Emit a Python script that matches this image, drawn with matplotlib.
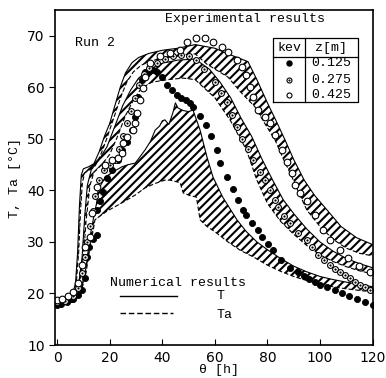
import matplotlib
matplotlib.use('Agg')
import matplotlib.pyplot as plt

# ---- numerical results: T (solid) and Ta (dashed) for each depth ----
b1_T_x = [0, 6, 9, 11, 12.5, 14, 15, 15.6, 18.3, 21, 24.7, 27, 29.7, 31.5, 33.5, 35.5, 37.3, 39, 40, 41,
          42.5, 44, 45, 46, 48, 50, 51.7, 54.4, 57, 59.3, 63, 68.4, 72, 76, 80, 85, 90, 95, 100, 105, 110, 115, 120]
b1_T_y = [18, 18.6, 20.5, 25, 31, 35, 37.5, 40.1, 42.6, 43.5, 44.6, 45, 45.3, 46.5, 47.9, 49.5, 51.7, 52.5, 53.5, 53.7,
          52.8, 55, 57, 56, 55.5, 55.3, 55.6, 51.7, 46.5, 42.6, 38.7, 34.3, 32, 30, 28.5, 26.8, 25.3, 24.2, 23.3, 22.7, 22.2, 21.8, 21.3]
b1_Ta_x = [0, 6, 9, 11, 12.5, 14, 14.4, 19, 24.7, 29.7, 33.5, 37, 41, 43, 46.8, 48, 50.5, 53, 54.4, 57, 60, 65,
           69.6, 75, 80, 85, 90, 95, 100, 105, 110, 115, 120]
b1_Ta_y = [17.8, 18.3, 20, 24, 29, 33, 34.3, 36, 37.6, 39.1, 40.5, 41.3, 42, 42, 41.5, 39.5, 39, 38.7, 34.3, 33, 32, 30,
           28.4, 27, 25.5, 24.3, 23.3, 22.5, 21.8, 21.3, 20.9, 20.6, 20.3]

b2_T_x = [0, 6, 8, 9.5, 10.5, 11.5, 13, 16, 19, 22, 25, 28, 31, 35, 40, 46, 52.5, 58, 62, 66, 70, 74, 78, 82, 86,
          90, 95, 100, 105, 110, 115, 120]
b2_T_y = [18.2, 19, 21, 27, 35, 41, 44, 46, 48.5, 52.5, 56.5, 59.5, 61.8, 63.5, 64.7, 65.3, 65.5, 63.5, 61, 58, 54,
          50.5, 46, 42, 38.2, 35.5, 32.5, 30, 28.2, 26.8, 25.8, 25]
b2_Ta_x = [0, 6, 8.5, 10, 11, 12.5, 14, 17, 20, 23, 26, 29, 32, 36, 42, 48, 52.5, 60, 66, 72, 76, 80, 85, 90, 95,
           100, 105, 110, 115, 120]
b2_Ta_y = [18, 18.7, 21, 27, 34, 41, 43.5, 45, 47, 50.5, 54.5, 57.5, 59.8, 61, 61.5, 61.8, 61.5, 58, 53.5, 47.9, 42,
           37.5, 34, 31.5, 29.3, 27.5, 26.2, 25.2, 24.4, 23.8]

b3_T_x = [0, 4, 6, 7, 7.8, 8.5, 9.2, 10, 12, 14, 16, 18, 20, 22, 24, 26, 28.5, 31, 35, 40, 46, 52.5, 60, 66, 72.6,
          76, 80, 83.5, 86.7, 90, 94, 98, 102.7, 108, 114, 120]
b3_T_y = [18.5, 19, 20, 22, 28, 37, 43, 44.2, 44.6, 45.2, 47.5, 50.5, 53, 56.5, 60, 62.8, 64.8, 65.8, 66.6, 67.2,
          67.6, 68.3, 67.6, 66.3, 65, 61.5, 57, 53.3, 49.8, 46, 42, 39, 36.2, 33, 30.8, 29.5]
b3_Ta_x = [0, 4, 6, 7.3, 8.2, 8.9, 9.6, 10.5, 12.5, 14.5, 16.5, 18.5, 20.5, 22.5, 24.5, 26.5, 29, 32, 36, 42, 48,
           52.5, 57, 65, 70, 75.3, 79, 82.9, 86, 89, 92, 95, 100, 105, 110, 115, 120]
b3_Ta_y = [18.2, 18.7, 19.6, 22, 28, 36, 41.5, 43.4, 44, 44.8, 46.8, 49.5, 52.5, 55.5, 58.5, 61, 63, 64.3, 65.2,
           65.8, 66.2, 66.5, 64.5, 62, 59, 56.2, 53, 49.8, 46.2, 43, 39.5, 36.2, 33, 30.5, 28.8, 27.8, 27.3]

# ---- experimental results ----
e125_x = [0, 1.5, 3.7, 6, 8, 9.4, 10.5, 11.3, 12, 13.5, 15, 15.2, 16.3, 17.5, 19, 21, 23, 24.7, 26.6, 28.5, 29.7,
          30.8, 32.3, 33.5, 35, 36.5, 38, 40, 41.8, 43.7, 45.6, 47.3, 49, 50.5, 51.7, 54.4, 56.7, 58.5, 60.8, 62,
          64.6, 67, 68.8, 70.7, 72, 74, 76.4, 78, 80.2, 82, 85, 88.6, 91.6, 94, 96, 98, 100, 102.8, 105.7, 108.4,
          111, 114, 117, 120]
e125_y = [17.8, 18, 18.4, 19, 19.8, 20.7, 23, 27, 29, 30.5, 31.4, 36.2, 38, 39.7, 42.5, 44, 46, 47.9, 49.4, 51.7,
          54.3, 58.2, 61.5, 63, 63.2, 63.3, 63, 62, 60.5, 59.5, 58.5, 58, 57.6, 57, 56.2, 54.5, 52.7, 50.6, 47.9,
          45.3, 42.6, 40.3, 38.2, 36.2, 35.2, 33.7, 32.3, 31, 29.6, 28.4, 26.5, 25, 24.2, 23.4, 22.8, 22.2, 21.7,
          21.2, 20.7, 20.1, 19.5, 19, 18.4, 17.8]

e275_x = [0, 3, 6, 8, 9.5, 10.5, 11.5, 12.5, 13.5, 14.5, 16, 18, 20, 22, 23.5, 25, 26.5, 28, 29.5, 31, 33, 35, 38,
          41, 44, 47, 50, 53, 56, 60, 62.5, 64.6, 66.5, 68.4, 70.5, 72.5, 74.5, 77.2, 79, 81, 82.9, 84, 86.5, 88.6,
          91.6, 95, 97, 99.2, 101.5, 103.8, 105.7, 107.6, 109.5, 111.4, 113.3, 115.2, 117, 119]
e275_y = [18.3, 18.6, 19.5, 21, 24, 27, 30, 33, 36, 39, 42, 44, 45, 46, 48, 50.5, 53, 55.5, 58, 60.5, 62.5, 63.8,
          64.8, 65.5, 66, 66.3, 66, 65.3, 63.5, 61, 59, 57.2, 54.7, 52.3, 50, 48, 46, 43.6, 42, 40.1, 38.2, 36.8,
          35, 33.7, 31.7, 30.4, 29, 27.5, 26.5, 25.5, 24.8, 24.2, 23.6, 23, 22.3, 21.7, 21.2, 20.7]

e425_x = [0, 2, 4, 6, 8, 9.4, 10.6, 12.5, 13.3, 15.2, 18.3, 21, 23, 24.7, 25.1, 26.6, 28.9, 29.5, 30.4, 31.6, 32.7,
          33.5, 35.4, 39, 43, 46.8, 49.4, 53, 56.3, 59.3, 62.7, 65, 68.4, 70.3, 72, 73.4, 74.5, 76.4, 79, 81, 82.9,
          85.5, 87.4, 89.4, 90.5, 92.4, 95, 98, 101, 103.8, 107.6, 110.6, 115, 119]
e425_y = [18.7, 19, 19.6, 20.3, 22, 25.5, 29, 31, 35.6, 40.7, 45, 45.9, 46.3, 47.3, 49.2, 50.4, 51.7, 53, 55, 57.6,
          59.9, 62, 64.8, 66, 66.7, 67.3, 68.8, 69.6, 69.6, 68.8, 67.9, 66.9, 65.3, 64, 62.4, 60.1, 58.2, 55.6, 54.3,
          53.1, 50.8, 47.9, 45.5, 43.4, 41, 39.5, 38, 35.2, 32.3, 30.4, 28.4, 26.9, 25.3, 24.2]

depths = ['0.125', '0.275', '0.425']

mono = 'Liberation Mono'
plt.rcParams['hatch.linewidth'] = 1.5

fig = plt.figure(figsize=(3.86, 3.78), dpi=100)
ax = fig.add_axes([0.1425, 0.0873, 0.824, 0.886])

bands = [(b1_T_x, b1_T_y, b1_Ta_x, b1_Ta_y),
         (b2_T_x, b2_T_y, b2_Ta_x, b2_Ta_y),
         (b3_T_x, b3_T_y, b3_Ta_x, b3_Ta_y)]
for tx, ty, ax_, ay in bands:
    ax.fill(tx + ax_[::-1], ty + ay[::-1], facecolor='none', edgecolor='black',
            hatch='////', linewidth=0)
    ax.plot(tx, ty, color='black', lw=0.8)
    ax.plot(ax_, ay, color='black', lw=0.8, ls=(0, (4, 2)))

ax.plot(e125_x, e125_y, 'o', ms=4.4, mfc='black', mec='black', mew=0.6)
ax.plot(e275_x, e275_y, 'o', ms=4.2, mfc='white', mec='black', mew=0.8)
ax.plot(e275_x, e275_y, 'o', ms=1.6, mfc='black', mec='black', mew=0)
ax.plot(e425_x, e425_y, 'o', ms=4.8, mfc='white', mec='black', mew=0.8)

ax.set_xlim(-0.8, 120.2)
ax.set_ylim(10, 75)
ax.set_xticks(range(0, 121, 20))
ax.set_yticks(range(10, 71, 10))
ax.tick_params(axis='x', direction='in', length=4, labelsize=10, pad=4)
ax.tick_params(axis='y', direction='out', length=4, labelsize=10)
for s in ax.spines.values():
    s.set_linewidth(1.2)

ax.set_xlabel('\u03b8 [h]', fontsize=9.5, family=mono)
ax.xaxis.set_label_coords(0.516, -0.058)
ax.set_ylabel('T, Ta [\u00b0C]', fontsize=9.5, family=mono, labelpad=4)

ax.text(6.8, 68.6, 'Run 2', fontsize=9.5, family=mono, va='center')
ax.text(71.5, 73.3, 'Experimental results', fontsize=9.5, family=mono, ha='center', va='center')

# kev / z[m] table
tr = ax.transAxes
x0, xm, x1 = 0.686, 0.786, 0.952
y0, yh, y1 = 0.725, 0.86, 0.916
lk = dict(color='black', lw=0.9, transform=tr, clip_on=False)
ax.plot([x0, x1, x1, x0, x0], [y0, y0, y1, y1, y0], **lk)
ax.plot([xm, xm], [y0, y1], **lk)
ax.plot([x0, x1], [yh, yh], **lk)
ax.text((x0 + xm) / 2, 0.888, 'kev', transform=tr, ha='center', va='center', fontsize=9.5, family=mono)
ax.text((xm + x1) / 2, 0.888, 'z[m]', transform=tr, ha='center', va='center', fontsize=9.5, family=mono)
rows_y = [0.842, 0.792, 0.746]
for ry, d in zip(rows_y, depths):
    ax.text((xm + x1) / 2, ry, d, transform=tr, ha='center', va='center', fontsize=9.5, family=mono)
mx = (x0 + xm) / 2
ax.plot([mx], [rows_y[0]], 'o', ms=3.6, mfc='black', mec='black', transform=tr)
ax.plot([mx], [rows_y[1]], 'o', ms=3.6, mfc='white', mec='black', mew=0.8, transform=tr)
ax.plot([mx], [rows_y[1]], 'o', ms=1.5, mfc='black', mec='black', mew=0, transform=tr)
ax.plot([mx], [rows_y[2]], 'o', ms=3.6, mfc='white', mec='black', mew=0.8, transform=tr)

# numerical results key
ax.text(20.2, 22, 'Numerical results', fontsize=9.5, family=mono, va='center')
ax.plot([24, 45.5], [19.5, 19.5], color='black', lw=1.0)
ax.plot([24, 44], [16.2, 16.2], color='black', lw=1.0, ls=(0, (4, 2)))
ax.text(60.5, 19.6, 'T', fontsize=9.5, family=mono, va='center')
ax.text(60.5, 15.9, 'Ta', fontsize=9.5, family=mono, va='center')

fig.savefig('out.png', dpi=100)
